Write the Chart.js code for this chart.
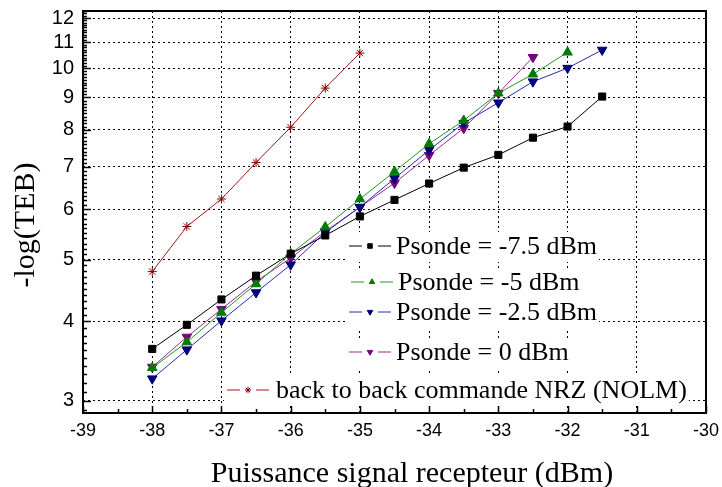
<!DOCTYPE html>
<html>
<head>
<meta charset="utf-8">
<script src="https://cdn.jsdelivr.net/npm/chart.js@4/dist/chart.umd.min.js"></script>
<style>
  html, body { margin: 0; padding: 0; background: #fff; }
  #wrap { width: 722px; height: 487px; }
</style>
</head>
<body>
<div id="wrap"><canvas id="chart" width="722" height="487"></canvas></div>
<script>
// puissance reçue (dBm)
var puissance = [-38, -37.5, -37, -36.5, -36, -35.5, -35, -34.5, -34, -33.5, -33, -32.5, -32, -31.5];

// -log(TEB) par courbe
var psondeM75 = [3.62, 3.95, 4.33, 4.72, 5.11, 5.46, 5.85, 6.21, 6.59, 6.98, 7.31, 7.78, 8.10, 9.03];
var psondeM5  = [3.38, 3.71, 4.13, 4.58, 5.11, 5.63, 6.23, 6.88, 7.61, 8.28, 9.14, 9.79, 10.6];
var psondeM25 = [3.25, 3.61, 4.01, 4.44, 4.91, 5.52, 6.05, 6.71, 7.44, 8.20, 8.83, 9.53, 10.01, 10.69];
var psonde0   = [3.39, 3.78, 4.18, 4.62, 5.03, 5.54, 6.05, 6.60, 7.30, 8.05, 9.14, 10.41];
var nolmB2B   = [4.79, 5.64, 6.23, 7.11, 8.08, 9.31, 10.57];

var seriesLabels = [
  'Psonde = -7.5 dBm',
  'Psonde = -5 dBm',
  'Psonde = -2.5 dBm',
  'Psonde = 0 dBm',
  'back to back commande NRZ (NOLM)'
];

var xTicks = [-39, -38, -37, -36, -35, -34, -33, -32, -31, -30];
var yTicks = [3, 4, 5, 6, 7, 8, 9, 10, 11, 12];

var xTitle = 'Puissance signal recepteur (dBm)';
var yTitle = '-log(TEB)';

function pts(ys) {
  return ys.map(function(y, i) { return { x: puissance[i], y: y }; });
}

// position des lignes de légende (marqueur, texte, ligne de base)
var legendRows = [
  { mx: 370, tx: 396, base: 254 },
  { mx: 372, tx: 398, base: 290 },
  { mx: 370, tx: 396, base: 320 },
  { mx: 370, tx: 396, base: 360 },
  { mx: 248, tx: 276, base: 398 }
];

var serif = '"Liberation Serif", "Times New Roman", serif';
var sans = '"Liberation Sans", Arial, sans-serif';

function drawMarker(ctx, style, rot, r, x, y, col) {
  ctx.save();
  ctx.fillStyle = col;
  ctx.strokeStyle = col;
  ctx.lineWidth = 1;
  if (Chart.helpers && Chart.helpers.drawPoint) {
    Chart.helpers.drawPoint(ctx, { pointStyle: style, rotation: rot, radius: r, borderWidth: 1 }, x, y);
  } else {
    ctx.fillRect(x - r, y - r, 2 * r, 2 * r);
  }
  ctx.restore();
}

var decor = {
  id: 'decor',
  afterDraw: function(c) {
    var ctx = c.ctx;
    var a = c.chartArea;
    var xs = c.scales.x, ys = c.scales.y;
    ctx.save();

    // légende
    c.data.datasets.forEach(function(ds, i) {
      var row = legendRows[i];
      ctx.font = '26px ' + serif;
      var w = ctx.measureText(ds.label).width;
      ctx.fillStyle = '#fff';
      ctx.fillRect(row.mx - 24, row.base - 22, (row.tx - row.mx + 24) + w + 2, 30);
      var my = row.base - 8;
      ctx.strokeStyle = ds.borderColor;
      ctx.lineWidth = 1;
      ctx.beginPath();
      ctx.moveTo(row.mx - 21, my); ctx.lineTo(row.mx - 8, my);
      ctx.moveTo(row.mx + 8, my); ctx.lineTo(row.mx + 21, my);
      ctx.stroke();
      drawMarker(ctx, ds.pointStyle, ds.pointRotation || 0, 3.2, row.mx, my, ds.pointBackgroundColor);
      ctx.fillStyle = '#000';
      ctx.textAlign = 'left';
      ctx.textBaseline = 'alphabetic';
      ctx.fillText(ds.label, row.tx, row.base);
    });

    // graduations vers l'intérieur
    ctx.strokeStyle = '#000';
    ctx.lineWidth = 1.5;
    ctx.beginPath();
    for (var xv = xTicks[0]; xv <= xTicks[xTicks.length - 1] + 1e-9; xv += 0.5) {
      var px = Math.round(xs.getPixelForValue(xv)) + 0.5;
      var len = Math.abs(xv - Math.round(xv)) < 1e-6 ? 7 : 4;
      ctx.moveTo(px, a.bottom); ctx.lineTo(px, a.bottom - len);
    }
    for (var k = 29; k <= 123; k++) {
      var v = k / 10;
      if (v < ys.min || v > ys.max) continue;
      var py = Math.round(ys.getPixelForValue(v)) + 0.5;
      var l = (k % 10 === 0) ? 8 : 4;
      ctx.moveTo(a.left, py); ctx.lineTo(a.left + l, py);
    }
    ctx.stroke();

    // cadre
    ctx.lineWidth = 2;
    ctx.strokeRect(a.left, a.top, a.right - a.left, a.bottom - a.top);

    // titres des axes
    ctx.fillStyle = '#000';
    ctx.font = '30px ' + serif;
    ctx.textAlign = 'center';
    ctx.textBaseline = 'alphabetic';
    ctx.fillText(xTitle, 412, 482);
    ctx.translate(34, 225);
    ctx.rotate(-Math.PI / 2);
    ctx.fillText(yTitle, 0, 0);
    ctx.restore();
  }
};

new Chart(document.getElementById('chart'), {
  type: 'line',
  data: {
    datasets: [
      { label: seriesLabels[0], data: pts(psondeM75), borderColor: '#000000', pointBackgroundColor: '#000000', pointBorderColor: '#000000', pointStyle: 'rect', pointRadius: 5 },
      { label: seriesLabels[1], data: pts(psondeM5), borderColor: '#1f9a1f', pointBackgroundColor: '#007a00', pointBorderColor: '#007a00', pointStyle: 'triangle', pointRadius: 5.5 },
      { label: seriesLabels[2], data: pts(psondeM25), borderColor: '#2b2bb0', pointBackgroundColor: '#00007a', pointBorderColor: '#00007a', pointStyle: 'triangle', pointRotation: 180, pointRadius: 5.5 },
      { label: seriesLabels[3], data: pts(psonde0), borderColor: '#9a2a9a', pointBackgroundColor: '#7a007a', pointBorderColor: '#7a007a', pointStyle: 'triangle', pointRotation: 180, pointRadius: 5.5 },
      { label: seriesLabels[4], data: pts(nolmB2B), borderColor: '#a01818', pointBackgroundColor: '#8b0000', pointBorderColor: '#8b0000', pointStyle: 'star', pointRadius: 4.5 }
    ]
  },
  options: {
    responsive: false,
    animation: false,
    devicePixelRatio: 1,
    layout: { padding: { top: 11, right: 16, left: 0, bottom: 0 } },
    elements: {
      line: { borderWidth: 1, tension: 0, fill: false },
      point: { borderWidth: 1, hoverRadius: 5 }
    },
    plugins: {
      legend: { display: false },
      tooltip: { enabled: false }
    },
    scales: {
      x: {
        type: 'linear',
        min: -39, max: -30,
        afterFit: function(s) { s.height = 74; s.paddingLeft = 0; s.paddingRight = 0; },
        afterBuildTicks: function(s) { s.ticks = xTicks.map(function(v) { return { value: v }; }); },
        grid: { color: '#000', lineWidth: 1, drawTicks: false },
        border: { display: false, dash: [2, 3] },
        ticks: { color: '#000', font: { family: sans, size: 18 }, padding: 7, maxRotation: 0,
          callback: function(v) { return String(v); } }
      },
      y: {
        type: 'logarithmic',
        min: 2.87, max: 12.31,
        afterFit: function(s) { s.width = 83; s.paddingTop = 0; s.paddingBottom = 0; },
        afterBuildTicks: function(s) { s.ticks = yTicks.map(function(v) { return { value: v }; }); },
        grid: { color: '#000', lineWidth: 1, drawTicks: false },
        border: { display: false, dash: [2, 3] },
        ticks: { color: '#000', font: { family: sans, size: 20 }, padding: 9,
          callback: function(v) { return String(v); } }
      }
    }
  },
  plugins: [decor]
});
</script>
</body>
</html>
